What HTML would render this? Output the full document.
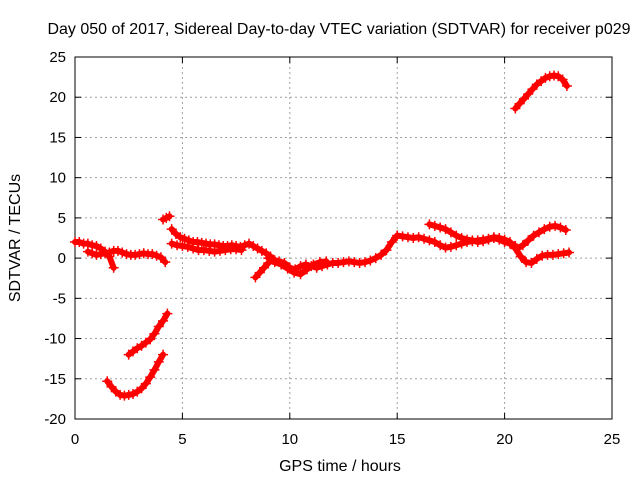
<!DOCTYPE html>
<html><head><meta charset="utf-8"><style>
html,body{margin:0;padding:0;background:#fff}
svg{display:block;font-family:"Liberation Sans",sans-serif}
</style></head><body>
<svg id="chart" width="640" height="480" viewBox="0 0 640 480">
<text x="339" y="34" text-anchor="middle" font-size="16">Day 050 of 2017, Sidereal Day-to-day VTEC variation (SDTVAR) for receiver p029</text>
<g id="grid"></g>
<g id="axes"></g>
<g id="marks"></g>
<text x="340" y="471" text-anchor="middle" font-size="16">GPS time / hours</text>
<text transform="translate(20,238) rotate(-90)" text-anchor="middle" font-size="16">SDTVAR / TECUs</text>
</svg>
<script>
const xTicks=[0,5,10,15,20,25];
const yTicks=[-20,-15,-10,-5,0,5,10,15,20,25];
// each series: start hour, step, values (TECU)
const s1Start=0, s1Step=0.2, s1Vals=[2,2,1.8,1.8,1.6,1.5,1.2,0.8,0.2,-1.2];
const s2Start=0.6, s2Step=0.2, s2Vals=[0.8,0.6,0.4,0.5,0.6,0.7,0.9,0.9,0.7,0.5,0.4,0.4,0.5,0.6,0.5,0.5,0.3,0.1,-0.5];
const s3Start=4.1, s3Step=0.15, s3Vals=[4.8,5,5.2];
const s4Start=1.5, s4Step=0.2, s4Vals=[-15.3,-16,-16.6,-17,-17.1,-17,-16.9,-16.6,-16.2,-15.6,-14.8,-13.9,-12.9,-12];
const s5Start=2.5, s5Step=0.2, s5Vals=[-12,-11.6,-11.2,-10.9,-10.5,-10.1,-9.4,-8.5,-7.8,-6.9];
const s6Start=4.5, s6Step=0.2, s6Vals=[3.6,3,2.6,2.4,2.2,2,2,1.9,1.8,1.7,1.7,1.6,1.5,1.5,1.6,1.5,1.4,1.6,1.8,1.5,1.2,0.9,0.6,0.2,-0.3];
const s7Start=4.5, s7Step=0.25, s7Vals=[1.8,1.6,1.5,1.4,1.2,1,1,0.9,0.8,0.9,1,1.1,1.1,1];
const s8Start=8.4, s8Step=0.2, s8Vals=[-2.4,-1.8,-1.2,-0.6,-0.2];
const s9Start=9, s9Step=0.25, s9Vals=[0,-0.2,-0.4,-0.6,-1.2,-1.4,-1,-0.8,-1,-1.2,-1,-0.8,-0.6,-0.6,-0.5,-0.4,-0.5,-0.6,-0.5,-0.3,0,0.4,1,2,2.8];
const s10Start=9.3, s10Step=0.3, s10Vals=[-0.5,-0.8,-1.3,-1.8,-2,-1.4,-0.8,-0.5,-0.4];
const s11Start=15, s11Step=0.25, s11Vals=[2.8,2.7,2.6,2.5,2.6,2.4,2.2,2,1.6,1.3,1.4,1.6,1.8,2,2.1,2.2,2.3,2.4,2.6,2.5,2.3,2,1.2,0.2,-0.5,-0.6,-0.1,0.3,0.4,0.4,0.5,0.6,0.7];
const s12Start=16.5, s12Step=0.25, s12Vals=[4.2,4,3.8,3.6,3.2,2.8,2.5,2.3,2.2,2,2.1,2.3,2.5,2.3,2,1.8,1.5];
const s13Start=20.6, s13Step=0.25, s13Vals=[1.2,1.6,2.2,2.8,3.2,3.6,3.9,4,3.8,3.5];
const s14Start=20.5, s14Step=0.2, s14Vals=[18.6,19.2,19.8,20.4,21,21.6,22,22.4,22.6,22.7,22.6,22.2,21.4];
const seriesList=[[s1Start,s1Step,s1Vals],[s2Start,s2Step,s2Vals],[s3Start,s3Step,s3Vals],[s4Start,s4Step,s4Vals],[s5Start,s5Step,s5Vals],[s6Start,s6Step,s6Vals],[s7Start,s7Step,s7Vals],[s8Start,s8Step,s8Vals],[s9Start,s9Step,s9Vals],[s10Start,s10Step,s10Vals],[s11Start,s11Step,s11Vals],[s12Start,s12Step,s12Vals],[s13Start,s13Step,s13Vals],[s14Start,s14Step,s14Vals]];

const L=75,R=612,T=57,B=419;
const xs=v=>L+(v-0)/(25-0)*(R-L);
const ys=v=>B-(v+20)/(45)*(B-T);
const NS="http://www.w3.org/2000/svg";
function mk(tag,attrs,parent){const e=document.createElementNS(NS,tag);for(const k in attrs)e.setAttribute(k,attrs[k]);parent.appendChild(e);return e;}
const grid=document.getElementById('grid'),axes=document.getElementById('axes'),marks=document.getElementById('marks');
xTicks.forEach(t=>{const x=xs(t);
 if(t>0&&t<25){const g=mk('line',{x1:x,x2:x,y1:T,y2:B,stroke:'#a0a0a0','stroke-dasharray':'2,3'},grid);}
 mk('line',{x1:x,x2:x,y1:B,y2:B-6,stroke:'#000'},axes);mk('line',{x1:x,x2:x,y1:T,y2:T+6,stroke:'#000'},axes);
 const lb=mk('text',{x:x,y:B+25,'text-anchor':'middle','font-size':'15'},axes);lb.textContent=t;
 });
yTicks.forEach(t=>{const y=ys(t);
 if(t>-20&&t<25){const g=mk('line',{x1:L,x2:R,y1:y,y2:y,stroke:'#a0a0a0','stroke-dasharray':'2,3'},grid);}
 mk('line',{x1:L,x2:L+6,y1:y,y2:y,stroke:'#000'},axes);mk('line',{x1:R,x2:R-6,y1:y,y2:y,stroke:'#000'},axes);
 const lb=mk('text',{x:L-9,y:y+5,'text-anchor':'end','font-size':'15'},axes);lb.textContent=t;
 });
const fr=mk('rect',{x:L,y:T,width:R-L,height:B-T,fill:'none',stroke:'#000'},axes);

seriesList.forEach((s,i)=>{const [st,sp,vals]=s;
 const pts=vals.map((v,j)=>[xs(st+j*sp),ys(v)]);
 const pl=mk('polyline',{points:pts.map(p=>p.join(',')).join(' '),fill:'none',stroke:'#f00','stroke-width':6,'stroke-linejoin':'round','stroke-linecap':'round'},marks);
 
 pts.forEach(p=>{const m=mk('path',{d:`M${p[0]-5},${p[1]}h10M${p[0]},${p[1]-5}v10`,stroke:'#f00','stroke-width':1.5},marks);
  });
});
</script>
</body></html>
